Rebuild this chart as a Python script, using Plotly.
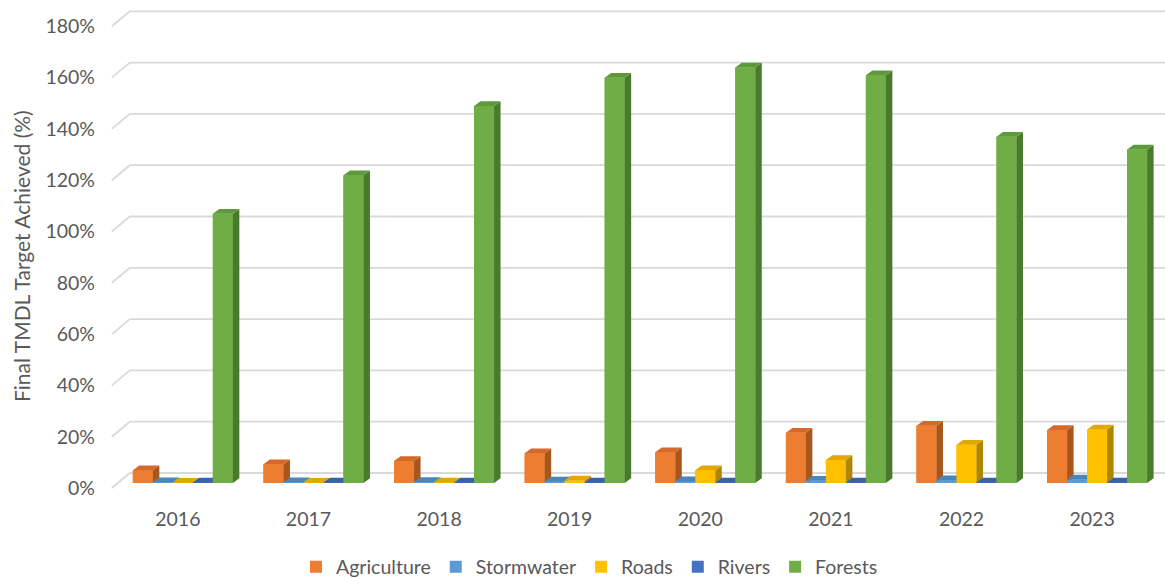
import plotly.graph_objects as go

# ---------------- data ----------------
years = ["2016", "2017", "2018", "2019", "2020", "2021", "2022", "2023"]
agriculture = [5.0, 7.3, 8.6, 11.6, 12.0, 19.6, 22.3, 20.7]
stormwater = [0.3, 0.3, 0.4, 0.6, 0.7, 0.9, 1.1, 1.4]
roads = [0.1, 0.1, 0.2, 1.0, 5.0, 9.0, 14.9, 20.9]
rivers = [0.2, 0.2, 0.2, 0.2, 0.2, 0.2, 0.2, 0.2]
forests = [105, 120, 147, 158, 162, 159, 135, 130]
y_ticks = [0, 20, 40, 60, 80, 100, 120, 140, 160, 180]

series = [
    ("Agriculture", agriculture, "#ED7D31", "#D4692A", "#A9561D"),
    ("Stormwater", stormwater, "#5B9BD5", "#4A86BE", "#3C6E9C"),
    ("Roads", roads, "#FFC000", "#E0A800", "#B08600"),
    ("Rivers", rivers, "#4472C4", "#3A62AA", "#2E4F8A"),
    ("Forests", forests, "#70AD47", "#5F9A3A", "#4A7A2C"),
]

# ---------------- geometry (3-D look) ----------------
PX_CAT = 130.6          # pixels per category
PX_PCT = 2.565          # pixels per 1 %
bar_w = 20 / PX_CAT
dx = 6.5 / PX_CAT       # bar depth (x)
dy = 4.7 / PX_PCT       # bar depth (y)
wall_front_y = -5 / PX_PCT
wall_back_y = 10 / PX_PCT
wall_front_x = (112 - 183) / PX_CAT
wall_back_x = (130 - 183) / PX_CAT
x_min, x_max = -0.55, 7.52
y_min, y_max = -8.577, 186.35

FONT = "Lato, 'Open Sans', Arial, sans-serif"
GREY = "#595959"
TICK_SIZE = 19.5

fig = go.Figure()

# real bar traces (front faces; also provide the legend)
for k, (name, vals, front, top, side) in enumerate(series):
    xs = [i + (k - 2) * bar_w for i in range(len(years))]
    fig.add_trace(go.Bar(
        x=xs, y=vals, width=bar_w, name=name,
        marker=dict(color=front, line=dict(width=0)),
        hoverinfo="skip",
    ))

# 3-D faces drawn as filled polygons, series by series (so order gives occlusion)
for k, (name, vals, front, top, side) in enumerate(series):
    fx, fy, tx, ty, sx, sy = [], [], [], [], [], []
    for i, v in enumerate(vals):
        xc = i + (k - 2) * bar_w
        x0, x1 = xc - bar_w / 2, xc + bar_w / 2
        fx += [x0, x1, x1, x0, x0, None]
        fy += [0, 0, v, v, 0, None]
        tx += [x0, x1, x1 + dx, x0 + dx, x0, None]
        ty += [v, v, v + dy, v + dy, v, None]
        sx += [x1, x1, x1 + dx, x1 + dx, x1, None]
        sy += [0, v, v + dy, dy, 0, None]
    for px, py, col in ((fx, fy, front), (sx, sy, side), (tx, ty, top)):
        fig.add_trace(go.Scatter(
            x=px, y=py, mode="lines", fill="toself", fillcolor=col,
            line=dict(width=0, color=col), showlegend=False, hoverinfo="skip",
        ))

# walls' gridlines: back wall horizontal + left wall diagonal
shapes = []
for v in y_ticks:
    shapes.append(dict(type="line", xref="x", yref="y", layer="below",
                       x0=wall_back_x, x1=x_max, y0=v + wall_back_y, y1=v + wall_back_y,
                       line=dict(color="#D9D9D9", width=1.8)))
    shapes.append(dict(type="line", xref="x", yref="y", layer="below",
                       x0=wall_front_x, x1=wall_back_x, y0=v + wall_front_y, y1=v + wall_back_y,
                       line=dict(color="#D9D9D9", width=1.8)))

fig.update_layout(
    width=1165, height=578,
    margin=dict(l=111, r=0, t=5, b=73),
    paper_bgcolor="white", plot_bgcolor="white",
    barmode="overlay",
    shapes=shapes,
    font=dict(family=FONT, size=TICK_SIZE, color=GREY),
    showlegend=True,
    legend=dict(orientation="h", xref="container", yref="container",
                x=0.506, y=0.019, xanchor="center", yanchor="middle",
                font=dict(size=TICK_SIZE, color=GREY), itemwidth=30),
    xaxis=dict(range=[x_min, x_max], tickmode="array",
               tickvals=[i - 0.038 for i in range(len(years))], ticktext=years,
               showgrid=False, zeroline=False, showline=False, ticks="",
               tickfont=dict(size=TICK_SIZE, color=GREY)),
    yaxis=dict(range=[y_min, y_max], tickmode="array",
               tickvals=[v + wall_front_y for v in y_ticks],
               ticktext=[f"{v}%" for v in y_ticks],
               showgrid=False, zeroline=False, showline=False, ticks="",
               ticklabelstandoff=15,
               tickfont=dict(size=TICK_SIZE, color=GREY)),
    annotations=[dict(text="Final TMDL Target Achieved (%)", textangle=-90,
                      xref="paper", yref="paper", x=(21 - 111) / 1054, y=(505 - 256) / 500,
                      xanchor="center", yanchor="middle", showarrow=False,
                      font=dict(size=21, color=GREY))],
)

fig.write_html("out.html")
